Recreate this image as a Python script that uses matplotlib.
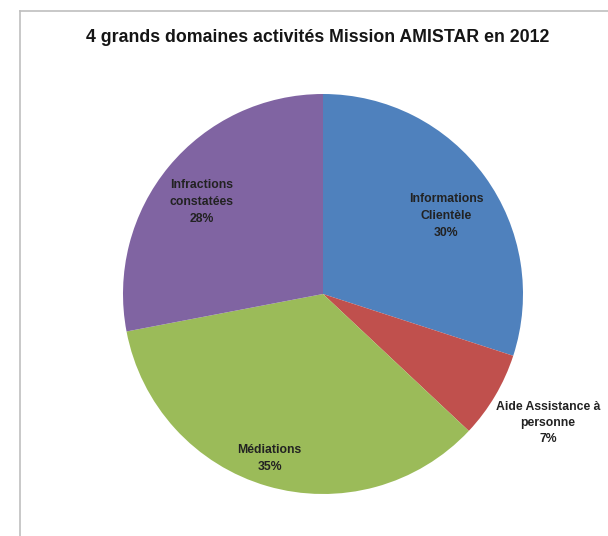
import matplotlib
matplotlib.use("Agg")
import matplotlib.pyplot as plt
from matplotlib.lines import Line2D

title = "4 grands domaines activités Mission AMISTAR en 2012"
categories = ["Informations\nClientèle", "Aide Assistance à\npersonne", "Médiations", "Infractions\nconstatées"]
values = [30, 7, 35, 28]
colors = ["#4F81BD", "#C0504D", "#9BBB59", "#8064A2"]
label_pos = [(0.615, 0.39), (1.125, -0.645), (-0.2675, -0.8225), (-0.6075, 0.46)]

W, H = 608, 536
fig = plt.figure(figsize=(W / 100, H / 100), dpi=100)
fig.patch.set_facecolor("white")

# frame lines
fig.add_artist(Line2D([20 / W, 1.0], [1 - 11 / H, 1 - 11 / H], color="#BFBFBF", lw=1.2, transform=fig.transFigure))
fig.add_artist(Line2D([20 / W, 20 / W], [0, 1 - 11 / H], color="#BFBFBF", lw=1.2, transform=fig.transFigure))

cx, cy, r = 323, 294, 200
ax = fig.add_axes([(cx - r) / W, (H - cy - r) / H, 2 * r / W, 2 * r / H])
ax.pie(values, colors=colors, startangle=90, counterclock=False, radius=1,
       wedgeprops=dict(linewidth=0))
ax.set_xlim(-1, 1)
ax.set_ylim(-1, 1)
ax.set_aspect("equal")
ax.axis("off")

for cat, v, (x, y) in zip(categories, values, label_pos):
    ax.text(x, y, f"{cat}\n{v}%", ha="center", va="center", fontsize=8.8,
            fontweight="bold", family="Liberation Sans", color="#222222",
            linespacing=1.5, clip_on=False)

fig.text(318 / W, 1 - 37 / H, title, ha="center", va="center", fontsize=12.8,
         fontweight="bold", family="Liberation Sans", color="#151515")

fig.savefig("out.png", dpi=100)
